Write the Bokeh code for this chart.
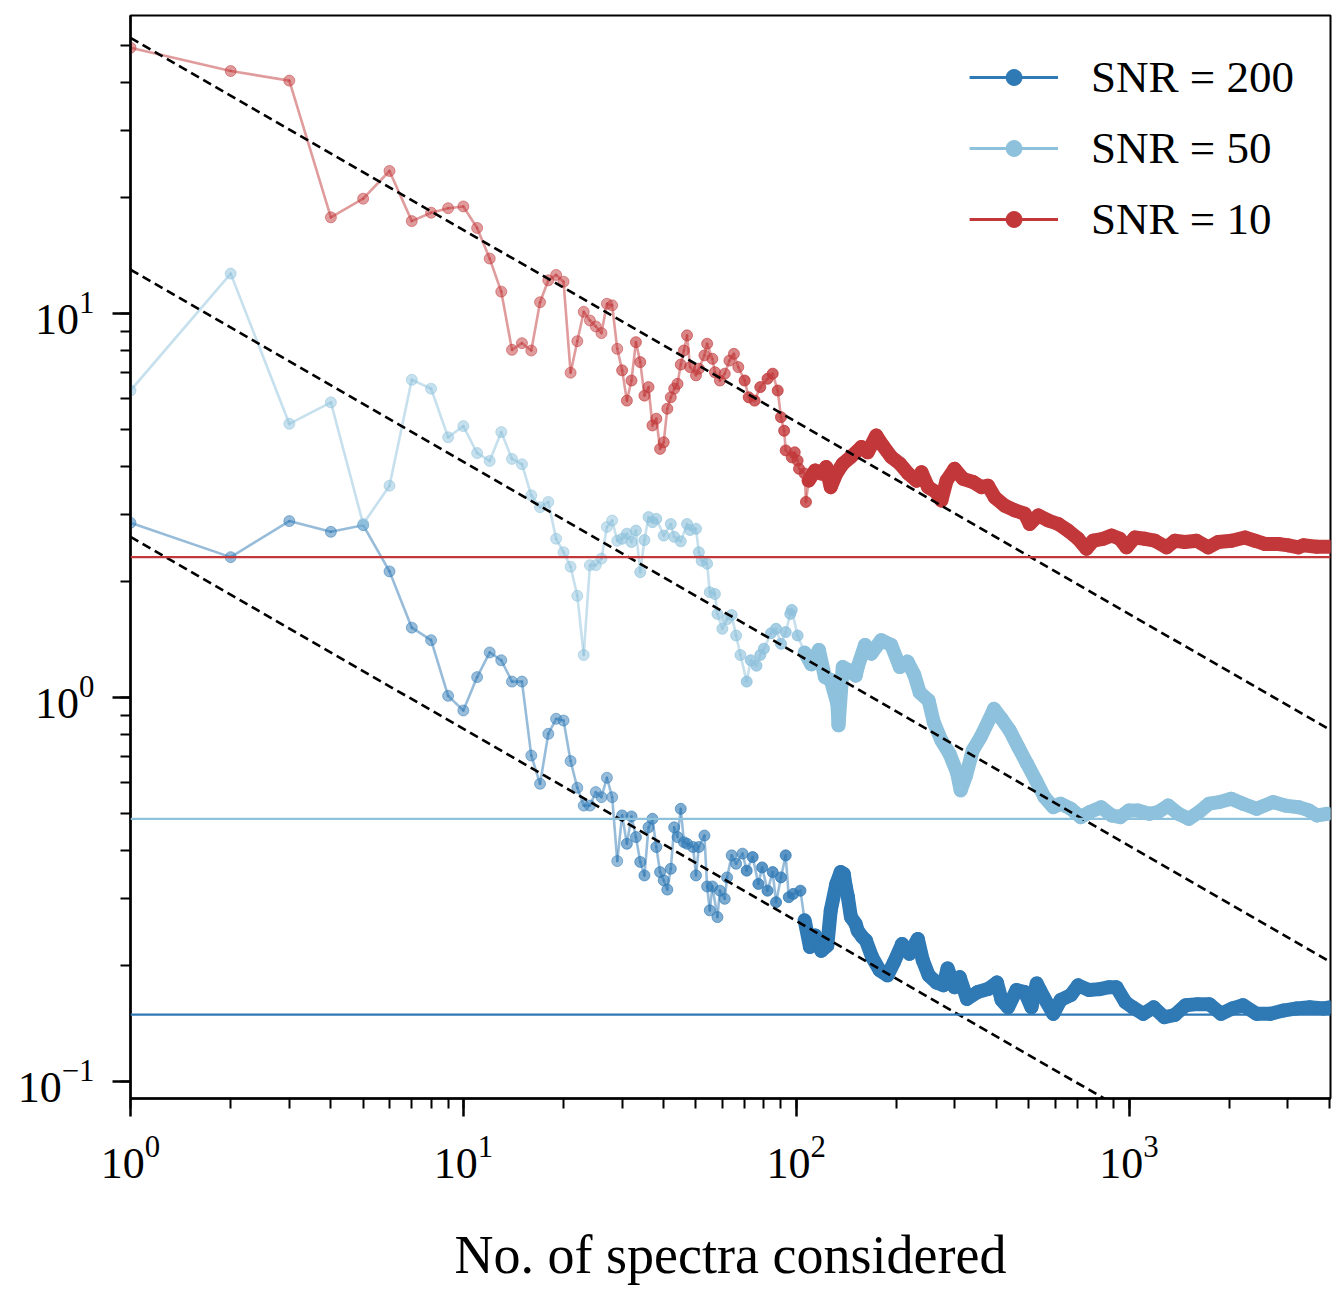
from bokeh.plotting import figure
from bokeh.models import Range1d, Legend, LegendItem, ColumnDataSource, Span
from bokeh.embed import file_html
from bokeh.resources import INLINE
import math

# ---------------- data ----------------
snr200_n = [1, 2, 3, 4, 5, 6, 7, 8, 9, 10, 11, 12, 13, 14, 15, 16, 17, 18, 19, 20,
            21, 22, 23, 24, 25, 26, 27, 28, 29, 30, 31, 32, 33, 34, 35, 36, 37, 38, 39, 40,
            41, 42, 43, 44, 45, 46, 47, 49, 50, 51, 53, 54, 55, 56, 58, 59, 61, 62, 64, 66,
            69, 71, 74, 77, 79, 82, 85, 87, 90, 93, 95, 98, 103, 106, 110, 114, 119, 124, 127, 132,
            136, 139, 141, 143, 146, 151, 153, 158, 162, 169, 178, 188, 197, 208, 219, 232, 240, 250, 264, 277,
            285, 299, 310, 326, 351, 377, 401, 414, 433, 459, 486, 509, 528, 554, 592, 623, 669, 703, 759, 817,
            871, 916, 975, 1025, 1103, 1186, 1276, 1372, 1479, 1607, 1743, 1890, 2046, 2200, 2416, 2651, 2905, 3188, 3492, 3840,
            4000]
snr200_v = [2.85, 2.32, 2.88, 2.70, 2.81, 2.13, 1.52, 1.41, 1.01, 0.925, 1.13, 1.31, 1.25, 1.10, 1.10, 0.706, 0.596, 0.804, 0.880, 0.871,
            0.683, 0.582, 0.523, 0.523, 0.567, 0.550, 0.618, 0.550, 0.375, 0.493, 0.416, 0.490, 0.433, 0.373, 0.344, 0.459, 0.483, 0.408, 0.351, 0.334,
            0.316, 0.358, 0.459, 0.433, 0.513, 0.420, 0.416, 0.408, 0.344, 0.408, 0.437, 0.322, 0.279, 0.322, 0.268, 0.314, 0.299, 0.340, 0.388, 0.369,
            0.392, 0.354, 0.384, 0.327, 0.361, 0.314, 0.351, 0.293, 0.340, 0.388, 0.302, 0.308, 0.314, 0.263, 0.224, 0.240, 0.219, 0.226, 0.279, 0.327,
            0.351, 0.347, 0.321, 0.302, 0.268, 0.257, 0.247, 0.238, 0.233, 0.211, 0.195, 0.189, 0.205, 0.228, 0.215, 0.235, 0.207, 0.189, 0.181, 0.178,
            0.197, 0.176, 0.187, 0.164, 0.171, 0.174, 0.181, 0.163, 0.156, 0.173, 0.171, 0.156, 0.180, 0.166, 0.150, 0.163, 0.168, 0.178, 0.173, 0.174,
            0.176, 0.176, 0.161, 0.156, 0.150, 0.156, 0.147, 0.149, 0.158, 0.159, 0.159, 0.150, 0.155, 0.158, 0.150, 0.150, 0.153, 0.155, 0.156, 0.155,
            0.156]

snr50_n = [1, 2, 3, 4, 5, 6, 7, 8, 9, 10, 11, 12, 13, 14, 15, 16, 17, 18, 19, 20,
           21, 22, 23, 24, 25, 26, 27, 28, 29, 30, 31, 32, 33, 34, 35, 36, 37, 38, 40, 42,
           43, 45, 47, 48, 50, 51, 52, 54, 55, 57, 58, 60, 62, 64, 66, 68, 71, 73, 76, 78,
           80, 84, 87, 90, 93, 96, 97, 101, 106, 111, 117, 122, 127, 133, 134, 138, 143, 151, 153, 161,
           168, 180, 193, 205, 216, 226, 235, 250, 259, 273, 289, 304, 312, 324, 339, 358, 381, 393, 414, 438,
           465, 494, 525, 557, 592, 623, 669, 716, 761, 825, 887, 941, 1000, 1064, 1151, 1221, 1311, 1407, 1511, 1622,
           1740, 1867, 2027, 2200, 2416, 2705, 2945, 3235, 3472, 3672, 3950]
snr50_v = [6.30, 12.7, 5.16, 5.87, 2.83, 3.56, 6.72, 6.37, 4.76, 5.09, 4.33, 4.13, 4.91, 4.18, 4.05, 3.36, 3.13, 3.23, 2.59, 2.39,
           2.19, 1.84, 1.29, 2.21, 2.21, 2.30, 2.78, 2.89, 2.56, 2.59, 2.67, 2.54, 2.72, 2.12, 2.57, 2.95, 2.86, 2.92, 2.64, 2.83,
           2.62, 2.55, 2.83, 2.73, 2.75, 2.39, 2.27, 2.23, 1.88, 1.86, 1.65, 1.51, 1.60, 1.64, 1.45, 1.29, 1.10, 1.25, 1.21, 1.29,
           1.34, 1.47, 1.51, 1.38, 1.48, 1.65, 1.69, 1.45, 1.31, 1.22, 1.33, 1.13, 1.11, 0.963, 0.846, 1.20, 1.18, 1.14, 1.20, 1.37,
           1.30, 1.41, 1.37, 1.20, 1.24, 1.15, 1.03, 0.982, 0.862, 0.773, 0.713, 0.639, 0.573, 0.626, 0.728, 0.788, 0.880, 0.934, 0.880, 0.821,
           0.742, 0.672, 0.608, 0.550, 0.518, 0.529, 0.513, 0.488, 0.503, 0.518, 0.493, 0.488, 0.508, 0.508, 0.498, 0.503, 0.523, 0.498, 0.483, 0.503,
           0.529, 0.534, 0.545, 0.529, 0.513, 0.534, 0.523, 0.518, 0.508, 0.493, 0.498]

snr10_n = [1, 2, 3, 4, 5, 6, 7, 8, 9, 10, 11, 12, 13, 14, 15, 16, 17, 18, 19, 20,
           21, 22, 23, 24, 25, 26, 27, 28, 29, 30, 31, 32, 33, 34, 35, 36, 37, 38, 39, 40,
           41, 42, 43, 44, 45, 46, 47, 48, 50, 51, 53, 54, 56, 57, 59, 61, 63, 65, 67, 70,
           72, 75, 78, 82, 85, 88, 90, 92, 93, 97, 99, 101, 102, 106, 107, 109, 114, 119, 123, 127,
           132, 138, 146, 157, 164, 174, 182, 193, 205, 217, 230, 238, 249, 264, 273, 283, 299, 317, 340, 360,
           377, 395, 423, 454, 486, 503, 534, 572, 613, 656, 703, 745, 780, 836, 886, 938, 983, 1041, 1116, 1196,
           1297, 1373, 1472, 1596, 1730, 1854, 2033, 2229, 2389, 2562, 2810, 3012, 3227, 3342, 3663, 4000]
snr10_v = [49.2, 42.8, 40.4, 17.8, 19.9, 23.5, 17.4, 18.3, 18.8, 19.0, 16.7, 13.9, 11.4, 8.04, 8.37, 8.01, 10.7, 12.2, 12.6, 12.1,
           7.01, 8.47, 10.1, 9.59, 9.25, 8.89, 10.6, 10.5, 8.09, 7.11, 5.93, 6.69, 8.42, 7.47, 6.11, 6.43, 5.11, 5.32, 4.44, 4.62,
           5.65, 6.05, 6.37, 6.56, 7.36, 8.01, 8.77, 7.25, 6.90, 7.18, 7.78, 8.34, 7.62, 7.03, 6.69, 6.97, 7.54, 7.85, 7.25, 6.69,
           6.05, 5.93, 6.43, 6.76, 6.97, 6.30, 5.37, 4.95, 4.40, 4.22, 4.35, 4.14, 3.94, 3.83, 3.23, 3.67, 3.90, 3.83, 3.98, 3.53,
           3.83, 4.06, 4.23, 4.49, 4.35, 4.81, 4.53, 4.23, 4.06, 3.83, 3.67, 3.86, 3.53, 3.42, 3.26, 3.67, 3.94, 3.71, 3.64, 3.53,
           3.56, 3.32, 3.16, 3.07, 3.01, 2.83, 2.98, 2.89, 2.83, 2.72, 2.59, 2.44, 2.56, 2.59, 2.64, 2.59, 2.46, 2.61, 2.59, 2.56,
           2.46, 2.56, 2.54, 2.56, 2.46, 2.54, 2.56, 2.61, 2.56, 2.51, 2.51, 2.49, 2.46, 2.49, 2.47, 2.47]

series_labels = ["SNR = 200", "SNR = 50", "SNR = 10"]
series_colors = ["#2f79b5", "#8ec1dc", "#c2383a"]
floor_levels = [0.1494, 0.483, 2.32]          # horizontal reference levels
slope_amplitudes = [2.62, 13.0, 52.2]          # dashed N^-1/2 guides (value at N = 1)
x_limits = [1, 4030]
y_limits = [0.0903, 59.7]

FONT = "Liberation Serif"

p = figure(width=1337, height=1289, x_axis_type="log", y_axis_type="log",
           x_range=Range1d(*x_limits), y_range=Range1d(*y_limits),
           output_backend="svg", toolbar_location=None,
           min_border_left=130, min_border_right=7, min_border_top=15, min_border_bottom=191)
# an off-screen range used only by the opaque legend proxies
p.extra_y_ranges = {"legend_proxy": Range1d(1e4, 1e5)}

p.background_fill_color = "white"
p.border_fill_color = "white"
p.outline_line_color = "black"
p.outline_line_width = 2
p.xgrid.visible = False
p.ygrid.visible = False


def point_alpha(n):
    # overlapping semi-transparent markers saturate where points crowd together
    if n < 30:
        return 0.5
    if n < 70:
        return 0.62
    if n < 120:
        return 0.8
    return 0.95


def seg_width(n):
    return 2.6 if n < 110 else 14


def seg_alpha(n):
    return 0.5 if n < 110 else 1.0


all_n = [snr200_n, snr50_n, snr10_n]
all_v = [snr200_v, snr50_v, snr10_v]

# horizontal levels
for lvl, col in zip(floor_levels, series_colors):
    p.add_layout(Span(location=lvl, dimension="width", line_color=col, line_width=2.2))

legend_items = []
for n, v, col, lab in zip(all_n, all_v, series_colors, series_labels):
    seg = ColumnDataSource(dict(x0=n[:-1], y0=v[:-1], x1=n[1:], y1=v[1:],
                                w=[seg_width(k) for k in n[1:]],
                                a=[seg_alpha(k) for k in n[1:]]))
    p.segment("x0", "y0", "x1", "y1", source=seg, line_color=col, line_width="w",
              line_alpha="a", line_cap="round")
    src = ColumnDataSource(dict(n=n, v=v, a=[point_alpha(k) for k in n]))
    p.scatter("n", "v", source=src, size=11, fill_color=col, line_color=col,
              fill_alpha="a", line_alpha="a")
    # opaque legend proxies, mapped onto an off-screen range
    lr = p.segment("x0", "y0", "x1", "y1", source=seg, line_color=col, line_width=3,
                   y_range_name="legend_proxy")
    sr = p.scatter("n", "v", source=src, size=15, fill_color=col, line_color=col,
                   y_range_name="legend_proxy")
    legend_items.append(LegendItem(label=lab, renderers=[lr, sr]))

# dashed N^-1/2 guides
for amp in slope_amplitudes:
    xs = x_limits
    ys = [amp / math.sqrt(x) for x in xs]
    p.line(xs, ys, line_color="black", line_width=2.6, line_dash="9 5")

legend = Legend(items=legend_items, location="top_right")
legend.label_text_font = FONT
legend.label_text_font_size = "45px"
legend.label_text_color = "black"
legend.glyph_width = 89
legend.glyph_height = 40
legend.label_height = 40
legend.label_standoff = 33
legend.spacing = 19
legend.padding = 18
legend.margin = 18
legend.border_line_alpha = 0
legend.background_fill_alpha = 0
p.add_layout(legend)

for ax in (p.xaxis, p.yaxis):
    ax.axis_line_width = 2.5
    ax.axis_line_color = "black"
    ax.major_tick_line_width = 2.5
    ax.minor_tick_line_width = 2
    ax.major_tick_out = 18
    ax.major_tick_in = 0
    ax.minor_tick_out = 10
    ax.minor_tick_in = 0
    ax.major_label_text_font = FONT
    ax.major_label_text_font_size = "44px"
    ax.major_label_text_color = "black"

p.xaxis.major_label_standoff = 20
p.yaxis.major_label_standoff = 18
p.xaxis.axis_label = "No. of spectra considered"
p.xaxis.axis_label_text_font = FONT
p.xaxis.axis_label_text_font_size = "54px"
p.xaxis.axis_label_text_font_style = "normal"
p.xaxis.axis_label_text_color = "black"
p.xaxis.axis_label_standoff = 44

open("out.html", "w").write(file_html(p, INLINE))
